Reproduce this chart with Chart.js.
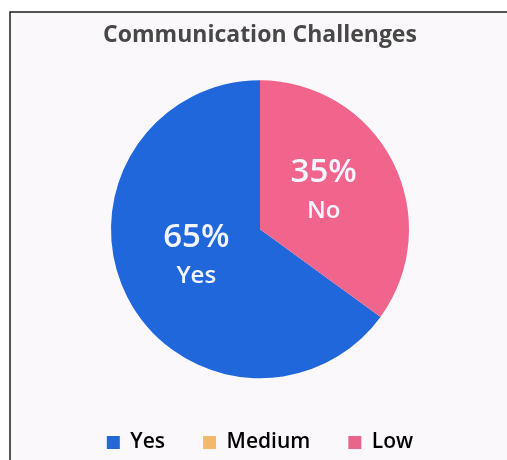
<!DOCTYPE html>
<html>
<head>
<meta charset="utf-8">
<script src="https://cdn.jsdelivr.net/npm/chart.js@4"></script>
<style>
  html, body { margin: 0; padding: 0; background: #ffffff; }
  #wrap { position: absolute; left: 0; top: 0; width: 507px; height: 460px; }
</style>
</head>
<body>
<div id="wrap"><canvas id="c" width="507" height="460"></canvas></div>
<script>
// ---- data ----
const titleText = 'Communication Challenges';
const categories = ['Yes', 'Medium', 'Low'];
const values = [65, 0, 35];
const sliceNames = ['Yes', '', 'No'];
const sliceColors = ['#2067db', '#f2b96b', '#f1658c'];
const legendColors = ['#2467d6', '#f3b96b', '#e8668b'];

const frameBg = {
  id: 'frameBg',
  beforeDraw(chart) {
    const ctx = chart.ctx;
    ctx.save();
    ctx.fillStyle = '#ffffff';
    ctx.fillRect(0, 0, chart.width, chart.height);
    ctx.fillStyle = '#fbf8fc';
    ctx.fillRect(10, 12, chart.width - 10, chart.height - 12);
    ctx.strokeStyle = '#1e1e1e';
    ctx.lineWidth = 1.5;
    ctx.beginPath();
    ctx.moveTo(chart.width, 12);
    ctx.lineTo(10, 12);
    ctx.lineTo(10, chart.height);
    ctx.stroke();
    ctx.restore();
  }
};

const sliceLabels = {
  id: 'sliceLabels',
  afterDatasetsDraw(chart) {
    const ctx = chart.ctx;
    const meta = chart.getDatasetMeta(0);
    const data = chart.data.datasets[0].data;
    const total = data.reduce((a, b) => a + b, 0);
    meta.data.forEach((arc, i) => {
      if (!data[i]) return;
      const p = arc.getProps(['x', 'y', 'startAngle', 'endAngle', 'outerRadius'], true);
      const mid = (p.startAngle + p.endAngle) / 2;
      const d = p.outerRadius * 0.48;
      const cx = p.x + Math.cos(mid) * d;
      const cy = p.y + Math.sin(mid) * d;
      ctx.save();
      ctx.fillStyle = '#f3f6ff';
      ctx.textAlign = 'center';
      ctx.textBaseline = 'middle';
      ctx.font = '600 33px "Open Sans", sans-serif';
      ctx.fillText(Math.round(data[i] / total * 100) + '%', cx, cy - 24);
      ctx.font = '600 24px "Open Sans", sans-serif';
      ctx.fillText(sliceNames[i], cx, cy + 14);
      ctx.restore();
    });
  }
};

new Chart(document.getElementById('c'), {
  type: 'pie',
  data: {
    labels: categories,
    datasets: [{
      data: values,
      backgroundColor: sliceColors,
      borderWidth: 0,
      radius: 149
    }]
  },
  options: {
    responsive: false,
    animation: false,
    rotation: 126,
    layout: { padding: { left: 13, top: 0, right: 0, bottom: -3 } },
    plugins: {
      tooltip: { enabled: false },
      title: {
        display: true,
        text: titleText,
        color: '#474747',
        font: { family: '"Open Sans", sans-serif', size: 23, weight: 'bold' },
        padding: { top: 22, bottom: 15 }
      },
      legend: {
        position: 'bottom',
        labels: {
          boxWidth: 13,
          boxHeight: 13,
          padding: 38,
          color: '#555555',
          font: { family: '"Open Sans", sans-serif', size: 21, weight: '600' },
          generateLabels(chart) {
            return categories.map((c, i) => ({
              text: c,
              fillStyle: legendColors[i],
              strokeStyle: legendColors[i],
              lineWidth: 0,
              hidden: false,
              index: i
            }));
          }
        }
      }
    }
  },
  plugins: [frameBg, sliceLabels]
});
</script>
</body>
</html>
